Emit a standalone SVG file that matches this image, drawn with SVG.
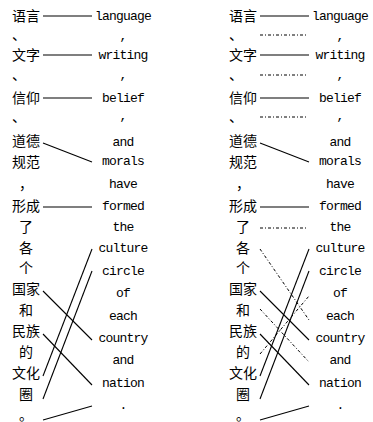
<svg xmlns="http://www.w3.org/2000/svg" width="373" height="422" viewBox="0 0 373 422">
<style>
.zh{font-family:"Noto Sans CJK SC","Noto Sans CJK JP",sans-serif;font-size:14px;fill:#000}
.en{font-family:"Liberation Mono","DejaVu Sans Mono",monospace;font-size:13px;letter-spacing:-0.8px;fill:#000}
.m{text-anchor:middle}
.s{stroke:#000;stroke-width:1.1;fill:none}
.d{stroke:#000;stroke-width:1;fill:none;stroke-dasharray:3 2 1 2}
</style>
<rect width="373" height="422" fill="#fff"/>
<g id="left">
<g id="left-zh">
<text class="zh m" x="26" y="21">语言</text>
<text class="zh" x="12" y="40">、</text>
<text class="zh m" x="26" y="60">文字</text>
<text class="zh" x="12" y="80">、</text>
<text class="zh m" x="26" y="103">信仰</text>
<text class="zh" x="12" y="122">、</text>
<text class="zh m" x="26" y="146">道德</text>
<text class="zh m" x="26" y="167">规范</text>
<text class="zh m" x="26" y="189">，</text>
<text class="zh m" x="26" y="211">形成</text>
<text class="zh m" x="26" y="232">了</text>
<text class="zh m" x="26" y="253">各</text>
<text class="zh m" x="26" y="273">个</text>
<text class="zh m" x="26" y="294">国家</text>
<text class="zh m" x="26" y="315">和</text>
<text class="zh m" x="26" y="336">民族</text>
<text class="zh m" x="26" y="357">的</text>
<text class="zh m" x="26" y="378">文化</text>
<text class="zh m" x="26" y="399">圈</text>
<text class="zh m" x="26" y="420">。</text>
</g>
<g id="left-en">
<text class="en m" x="123" y="20">language</text>
<text class="en m" x="123" y="40">,</text>
<text class="en m" x="123" y="59">writing</text>
<text class="en m" x="123" y="79">,</text>
<text class="en m" x="123" y="102">belief</text>
<text class="en m" x="123" y="120">,</text>
<text class="en m" x="123" y="146">and</text>
<text class="en m" x="123" y="165">morals</text>
<text class="en m" x="123" y="188">have</text>
<text class="en m" x="123" y="210">formed</text>
<text class="en m" x="123" y="231">the</text>
<text class="en m" x="123" y="252">culture</text>
<text class="en m" x="123" y="275">circle</text>
<text class="en m" x="123" y="297">of</text>
<text class="en m" x="123" y="320">each</text>
<text class="en m" x="123" y="342">country</text>
<text class="en m" x="123" y="364">and</text>
<text class="en m" x="123" y="387">nation</text>
<text class="en m" x="123" y="409">.</text>
</g>
</g>
<g id="right">
<g id="right-zh">
<text class="zh m" x="243" y="21">语言</text>
<text class="zh" x="229" y="40">、</text>
<text class="zh m" x="243" y="60">文字</text>
<text class="zh" x="229" y="80">、</text>
<text class="zh m" x="243" y="103">信仰</text>
<text class="zh" x="229" y="122">、</text>
<text class="zh m" x="243" y="146">道德</text>
<text class="zh m" x="243" y="167">规范</text>
<text class="zh m" x="243" y="189">，</text>
<text class="zh m" x="243" y="211">形成</text>
<text class="zh m" x="243" y="232">了</text>
<text class="zh m" x="243" y="253">各</text>
<text class="zh m" x="243" y="273">个</text>
<text class="zh m" x="243" y="294">国家</text>
<text class="zh m" x="243" y="315">和</text>
<text class="zh m" x="243" y="336">民族</text>
<text class="zh m" x="243" y="357">的</text>
<text class="zh m" x="243" y="378">文化</text>
<text class="zh m" x="243" y="399">圈</text>
<text class="zh m" x="243" y="420">。</text>
</g>
<g id="right-en">
<text class="en m" x="340" y="20">language</text>
<text class="en m" x="340" y="40">,</text>
<text class="en m" x="340" y="59">writing</text>
<text class="en m" x="340" y="79">,</text>
<text class="en m" x="340" y="102">belief</text>
<text class="en m" x="340" y="120">,</text>
<text class="en m" x="340" y="146">and</text>
<text class="en m" x="340" y="165">morals</text>
<text class="en m" x="340" y="188">have</text>
<text class="en m" x="340" y="210">formed</text>
<text class="en m" x="340" y="231">the</text>
<text class="en m" x="340" y="252">culture</text>
<text class="en m" x="340" y="275">circle</text>
<text class="en m" x="340" y="297">of</text>
<text class="en m" x="340" y="320">each</text>
<text class="en m" x="340" y="342">country</text>
<text class="en m" x="340" y="364">and</text>
<text class="en m" x="340" y="387">nation</text>
<text class="en m" x="340" y="409">.</text>
</g>
</g>
<g id="connectors">
<g id="left-links">
<line class="s" x1="43" y1="16" x2="92" y2="16"/>
<line class="s" x1="43" y1="55" x2="92" y2="55"/>
<line class="s" x1="43" y1="98" x2="92" y2="98"/>
<line class="s" x1="43" y1="143" x2="92" y2="162"/>
<line class="s" x1="43" y1="207" x2="92" y2="207"/>
<line class="s" x1="43" y1="376" x2="92" y2="249"/>
<line class="s" x1="43" y1="399" x2="92" y2="271"/>
<line class="s" x1="43" y1="291" x2="92" y2="340"/>
<line class="s" x1="43" y1="334" x2="92" y2="385"/>
<line class="s" x1="43" y1="420" x2="92" y2="406"/>
</g>
<g id="right-links">
<line class="s" x1="260" y1="16" x2="309" y2="16"/>
<line class="s" x1="260" y1="55" x2="309" y2="55"/>
<line class="s" x1="260" y1="98" x2="309" y2="98"/>
<line class="s" x1="260" y1="143" x2="309" y2="162"/>
<line class="s" x1="260" y1="207" x2="309" y2="207"/>
<line class="s" x1="260" y1="376" x2="309" y2="249"/>
<line class="s" x1="260" y1="399" x2="309" y2="271"/>
<line class="s" x1="260" y1="291" x2="309" y2="340"/>
<line class="s" x1="260" y1="334" x2="309" y2="385"/>
<line class="s" x1="260" y1="420" x2="309" y2="406"/>
<line class="d" x1="260" y1="35" x2="307" y2="35"/>
<line class="d" x1="260" y1="75" x2="307" y2="75"/>
<line class="d" x1="260" y1="117" x2="307" y2="117"/>
<line class="d" x1="260" y1="228" x2="307" y2="228"/>
<line class="d" x1="260" y1="249" x2="309" y2="320"/>
<line class="d" x1="260" y1="309" x2="309" y2="362"/>
<line class="d" x1="260" y1="354" x2="309" y2="296"/>
</g>
</g>
</svg>
